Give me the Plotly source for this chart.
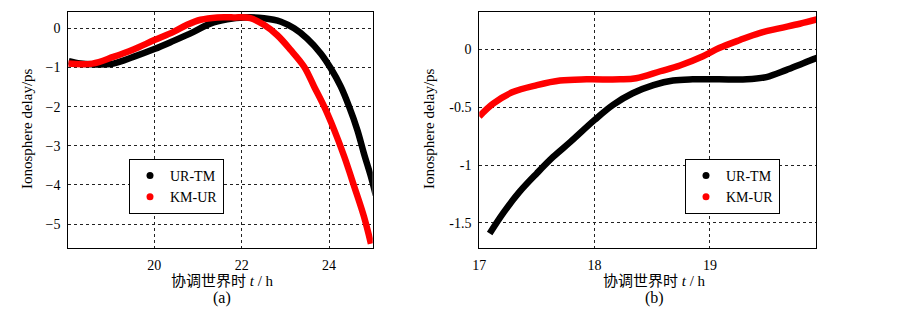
import plotly.graph_objects as go

# Panel (a)
a_urtm_x = [18.04, 18.3, 18.58, 19.06, 19.52, 20.0, 20.44, 20.9, 21.28, 21.67, 22.05, 22.51, 22.9, 23.2, 23.5,
            23.81, 24.04, 24.27, 24.46, 24.65, 24.8, 24.96, 25.07]
a_urtm_y = [-0.84, -0.9, -0.92, -0.9, -0.73, -0.53, -0.32, -0.09, 0.12, 0.23, 0.28, 0.26, 0.17, 0.0, -0.26,
            -0.64, -1.02, -1.49, -2.0, -2.6, -3.2, -3.79, -4.26]
a_kmur_x = [18.03, 18.58, 19.06, 19.52, 20.0, 20.44, 20.75, 21.06, 21.44, 21.82, 22.2, 22.51, 22.81,
            23.12, 23.43, 23.66, 23.89, 24.12, 24.35, 24.58, 24.8, 24.96]
a_kmur_y = [-0.9, -0.9, -0.73, -0.54, -0.3, -0.09, 0.09, 0.22, 0.28, 0.28, 0.26, 0.09, -0.17,
            -0.55, -0.98, -1.49, -2.0, -2.6, -3.28, -4.05, -4.81, -5.5]

# Panel (b)
b_urtm_x = [17.09, 17.21, 17.35, 17.5, 17.64, 17.79, 18.0, 18.16, 18.33, 18.51, 18.68, 18.85, 19.08,
            19.32, 19.49, 19.66, 19.81, 19.94]
b_urtm_y = [-1.59, -1.41, -1.23, -1.07, -0.93, -0.8, -0.61, -0.48, -0.38, -0.31, -0.27, -0.26, -0.26,
            -0.26, -0.24, -0.18, -0.12, -0.07]
b_kmur_x = [17.0, 17.12, 17.29, 17.5, 17.7, 17.93, 18.22, 18.36, 18.57, 18.74, 18.94, 19.08, 19.26,
            19.43, 19.6, 19.78, 19.94]
b_kmur_y = [-0.58, -0.47, -0.37, -0.31, -0.27, -0.26, -0.26, -0.25, -0.19, -0.14, -0.06, 0.01, 0.08,
            0.14, 0.18, 0.22, 0.26]

series_names = ["UR-TM", "KM-UR"]
series_colors = ["black", "red"]

FONT = "Liberation Serif"
W, H = 924, 316

fig = go.Figure()

def add_panel(xs_list, ys_list, xa, ya, legend):
    for xs, ys, name, col in zip(xs_list, ys_list, series_names, series_colors):
        fig.add_trace(go.Scatter(x=xs, y=ys, mode="lines",
                                 line=dict(color=col, width=6.5, shape="spline", smoothing=1.0),
                                 xaxis=xa, yaxis=ya, showlegend=False, hoverinfo="skip"))
        fig.add_trace(go.Scatter(x=[None], y=[None], mode="markers", name=name,
                                 marker=dict(color=col, size=7), xaxis=xa, yaxis=ya,
                                 legend=legend, showlegend=True))

add_panel([a_urtm_x, a_kmur_x], [a_urtm_y, a_kmur_y], "x", "y", "legend")
add_panel([b_urtm_x, b_kmur_x], [b_urtm_y, b_kmur_y], "x2", "y2", "legend2")

def px_x(p):
    return p / W

def px_y(p):
    return 1 - p / H

axis_common = dict(showline=True, linecolor="black", linewidth=1, mirror=True,
                   showgrid=True, gridcolor="#222222", gridwidth=1, griddash="3px,3px",
                   zeroline=False, ticks="outside", ticklen=4, tickcolor="rgba(0,0,0,0)",
                   automargin=False,
                   tickfont=dict(family=FONT, size=14, color="black"))

fig.update_layout(
    width=W, height=H, margin=dict(l=0, r=0, t=0, b=0),
    paper_bgcolor="white", plot_bgcolor="white",
    font=dict(family=FONT, color="black"),
    xaxis=dict(domain=[px_x(68.3), px_x(372.7)], range=[18.03, 25.0], tickvals=[20, 22, 24],
               anchor="y", **axis_common),
    yaxis=dict(domain=[px_y(248), px_y(12.3)], range=[-5.61, 0.41], tickvals=[0, -1, -2, -3, -4, -5],
               anchor="x", **axis_common),
    xaxis2=dict(domain=[px_x(479.3), px_x(816)], range=[17.0, 19.92], tickvals=[17, 18, 19],
                anchor="y2", **axis_common),
    yaxis2=dict(domain=[px_y(248), px_y(12.3)], range=[-1.716, 0.319], tickvals=[0, -0.5, -1, -1.5],
                ticktext=["0", "-0.5", "-1", "-1.5"], anchor="x2", **axis_common),
    legend=dict(x=px_x(129), y=px_y(159), xanchor="left", yanchor="top", bordercolor="black",
                borderwidth=1, bgcolor="white", font=dict(family=FONT, size=14), itemwidth=30,
                tracegroupgap=2),
    legend2=dict(x=px_x(685), y=px_y(159), xanchor="left", yanchor="top", bordercolor="black",
                 borderwidth=1, bgcolor="white", font=dict(family=FONT, size=14), itemwidth=30,
                 tracegroupgap=2),
)

XT_FONT = "Liberation Serif, Noto Sans CJK SC"
anns = []
for cx, lab in [(222, "(a)"), (654, "(b)")]:
    anns.append(dict(x=px_x(cx), y=px_y(281), xref="paper", yref="paper", showarrow=False,
                     text="协调世界时 <i>t</i> / h", font=dict(family=XT_FONT, size=15),
                     xanchor="center", yanchor="middle"))
    anns.append(dict(x=px_x(cx), y=px_y(298), xref="paper", yref="paper", showarrow=False,
                     text=lab, font=dict(family=FONT, size=16), xanchor="center", yanchor="middle"))
for cx in [27, 429]:
    anns.append(dict(x=px_x(cx), y=px_y(129), xref="paper", yref="paper", showarrow=False,
                     text="Ionosphere delay/ps", textangle=-90, font=dict(family=FONT, size=15),
                     xanchor="center", yanchor="middle"))
fig.update_layout(annotations=anns)

fig.write_html("out.html", config={"displayModeBar": False},
               post_script="document.body.style.margin='0';document.body.style.padding='0';")
